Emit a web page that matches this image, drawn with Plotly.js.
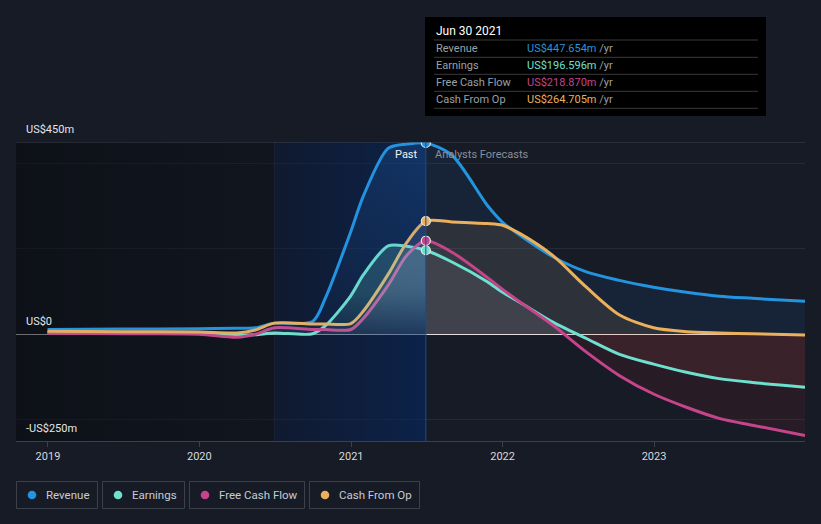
<!DOCTYPE html>
<html>
<head>
<meta charset="utf-8">
<script src="https://cdn.plot.ly/plotly-3.0.1.min.js"></script>
<style>
html,body{margin:0;padding:0;background:#161b26;}
#chart{width:821px;height:524px;}
</style>
</head>
<body>
<div id="chart"></div>
<script>
// ---------- data ----------
const seriesNames  = ["Revenue", "Earnings", "Free Cash Flow", "Cash From Op"];
const seriesColors = ["#2394df", "#6ee0cf", "#c5448a", "#ebb05c"];

const pastDates = ["2018-12-31","2019-06-30","2019-12-31","2020-03-31","2020-05-15","2020-06-30",
                   "2020-09-30","2020-10-31","2020-12-31","2021-01-31","2021-03-31","2021-05-15","2021-06-30"];
const revenuePast  = [11, 12, 13, 14, 15, 26, 30, 85, 240, 325, 435, 445, 447.654];
const earningsPast = [4, 3, 2, -2, -1, 3, 1, 20, 90, 140, 207, 206, 196.596];
const fcfPast      = [2, 1, 0, -7, 0, 15, 11, 11, 11, 38, 115, 185, 218.870];
const cfoPast      = [7, 6, 5, 3, 10, 26, 24, 24, 25, 55, 140, 215, 264.705];

const forecastDates = ["2021-09-01","2021-11-25","2022-01-01","2022-02-11","2022-05-01","2022-07-22",
                       "2022-10-10","2022-12-31","2023-03-20","2023-06-07","2023-08-26","2023-12-31"];
const revenueForecast  = [419, 302, 262, 232, 182, 146, 126, 110, 98, 89, 84, 77];
const earningsForecast = [169, 123, 98, 75, 29, -10, -47, -70, -89, -104, -113, -124];
const fcfForecast      = [192, 133, 105, 76, 22, -42, -97, -140, -171, -197, -213, -237];
const cfoForecast      = [263, 259, 255, 236, 185, 110, 45, 15, 6, 3, 1, -2];

const xTickVals = ["2019-01-01","2020-01-01","2021-01-01","2022-01-01","2023-01-01"];
const xTickText = ["2019","2020","2021","2022","2023"];
const yTickVals = [-250, -200, 0, 200, 400, 450];
const yTickText = ["-US$250m", "", "US$0", "", "", "US$450m"];
const tooltipDate = "Jun 30 2021";
const regionLabels = ["Past", "Analysts Forecasts"];
const pastShadeStart = "2020-06-30";

// ---------- layout helpers ----------
const W = 821, H = 524, ML = 16, MR = 16, MT = 142, MB = 83;
const PW = W - ML - MR, PH = H - MT - MB;
const px = v => (v - ML) / PW;          // pixel x -> paper
const py = v => (H - MB - v) / PH;      // pixel y -> paper
const xRange = ["2018-10-16", "2023-12-31"];
const yRange = [yTickVals[0], yTickVals[yTickVals.length - 1]];
const FONT = "Roboto, 'Noto Sans', sans-serif";

const pastSeries = [revenuePast, earningsPast, fcfPast, cfoPast];
const forecastSeries = [revenueForecast, earningsForecast, fcfForecast, cfoForecast];
const lastPastDate = pastDates[pastDates.length - 1];
const allDates = pastDates.concat(forecastDates);

const pastGrad = [
  [[0, "rgba(40,120,220,0.04)"], [1, "rgba(45,135,235,0.18)"]],
  [[0, "rgba(110,224,207,0.05)"], [0.5, "rgba(110,224,207,0.19)"], [1, "rgba(110,224,207,0.19)"]],
  [[0, "rgba(200,205,235,0.03)"], [0.55, "rgba(200,205,235,0.11)"], [1, "rgba(200,205,235,0.11)"]],
  [[0, "rgba(200,205,235,0.03)"], [0.6, "rgba(205,205,230,0.11)"], [1, "rgba(205,205,230,0.11)"]]
];
const forePos  = ["rgba(35,120,230,0.09)", "rgba(200,190,220,0.06)", "rgba(200,190,220,0.06)", "rgba(236,176,92,0.10)"];
const foreNeg  = ["rgba(35,120,230,0.0)",  "rgba(220,90,90,0.10)",   "rgba(200,30,30,0.10)",   "rgba(200,30,30,0.0)"];
const zFrac = -yRange[0] / (yRange[1] - yRange[0]);

const traces = [];
// background regions
traces.push({
  x: [xRange[0], pastShadeStart, pastShadeStart, xRange[0], xRange[0]],
  y: [yRange[0], yRange[0], yRange[1], yRange[1], yRange[0]],
  mode: "lines", line: {width: 0}, fill: "toself",
  fillgradient: {type: "horizontal", colorscale: [[0, "rgba(6,8,12,0.55)"], [1, "rgba(6,8,12,0.3)"]]},
  hoverinfo: "skip", showlegend: false
});
traces.push({
  x: [pastShadeStart, lastPastDate, lastPastDate, pastShadeStart, pastShadeStart],
  y: [yRange[0], yRange[0], yRange[1], yRange[1], yRange[0]],
  mode: "lines", line: {width: 0}, fill: "toself",
  fillgradient: {type: "horizontal", colorscale: [[0, "rgba(8,25,60,0.45)"], [1, "rgba(5,40,100,0.58)"]]},
  hoverinfo: "skip", showlegend: false
});
// forecast fills
for (let i = 0; i < 4; i++) {
  traces.push({
    x: [lastPastDate].concat(forecastDates),
    y: [pastSeries[i][pastSeries[i].length - 1]].concat(forecastSeries[i]),
    mode: "lines", line: {width: 0, shape: "spline", smoothing: 0.8}, fill: "tozeroy",
    fillgradient: {type: "vertical", start: yRange[0], stop: yRange[1],
      colorscale: [[0, foreNeg[i]], [zFrac, foreNeg[i]], [zFrac + 0.001, forePos[i]], [1, forePos[i]]]},
    hoverinfo: "skip", showlegend: false
  });
}
// lines
for (let i = 0; i < 4; i++) {
  traces.push({
    x: allDates, y: pastSeries[i].concat(forecastSeries[i]), name: seriesNames[i],
    mode: "lines", line: {color: seriesColors[i], width: 3, shape: "spline", smoothing: 0.8},
    hoverinfo: "skip", showlegend: false
  });
}
// past fills (drawn over the lines, which mutes them like the reference)
for (let i = 0; i < 4; i++) {
  traces.push({
    x: pastDates, y: pastSeries[i], mode: "lines",
    line: {width: 0, shape: "spline", smoothing: 0.8}, fill: "tozeroy",
    fillgradient: {type: "vertical", start: 0, stop: pastSeries[i][pastSeries[i].length - 1],
      colorscale: pastGrad[i]},
    hoverinfo: "skip", showlegend: false
  });
}
// markers at last reported
for (let i = 0; i < 4; i++) {
  traces.push({
    x: [lastPastDate], y: [pastSeries[i][pastSeries[i].length - 1]], mode: "markers",
    marker: {size: 9, color: seriesColors[i], line: {color: "#e8e8e8", width: 1.2}},
    hoverinfo: "skip", showlegend: false
  });
}

// ---------- decorations ----------
const shapes = [
  {type: "line", xref: "paper", yref: "y", x0: 0, x1: 1, y0: yRange[1], y1: yRange[1],
   line: {color: "#3d424d", width: 1}},
  {type: "line", xref: "x", yref: "y", x0: lastPastDate, x1: lastPastDate, y0: yRange[0], y1: yRange[1],
   line: {color: "#1d4c8a", width: 1}},
  {type: "line", xref: "x", yref: "y", x0: pastShadeStart, x1: pastShadeStart, y0: yRange[0], y1: yRange[1],
   line: {color: "rgba(255,255,255,0.04)", width: 1}},
  // tooltip box
  {type: "rect", xref: "paper", yref: "paper", x0: px(425), x1: px(766), y0: py(116), y1: py(17),
   fillcolor: "#000000", line: {width: 0}}
];
const annotations = [];
// y tick labels (placed above their reference lines, inside the plot)
yTickVals.forEach((v, k) => {
  if (!yTickText[k]) return;
  annotations.push({xref: "paper", yref: "y", x: px(24), y: v, xanchor: "left", yanchor: "bottom",
    yshift: 4, text: yTickText[k], showarrow: false, font: {family: FONT, size: 11, color: "#e6e6e6"}});
});
// region labels
annotations.push({xref: "x", yref: "y", x: lastPastDate, y: yRange[1], xanchor: "right", yanchor: "top",
  xshift: -6, yshift: -4, text: regionLabels[0], showarrow: false, font: {family: FONT, size: 11, color: "#f2f2f2"}});
annotations.push({xref: "x", yref: "y", x: lastPastDate, y: yRange[1], xanchor: "left", yanchor: "top",
  xshift: 7, yshift: -4, text: regionLabels[1], showarrow: false, font: {family: FONT, size: 11, color: "#8a8f98"}});
// tooltip content
annotations.push({xref: "paper", yref: "paper", x: px(434), y: py(31), xanchor: "left", yanchor: "middle",
  text: tooltipDate, showarrow: false, font: {family: FONT, size: 12, color: "#ffffff"}});
const sepYs = [40, 57.3, 74.3, 91.3, 108.3];
sepYs.forEach(s => shapes.push({type: "line", xref: "paper", yref: "paper", x0: px(434), x1: px(758),
  y0: py(s), y1: py(s), line: {color: "#3a3a3a", width: 1}}));
for (let i = 0; i < 4; i++) {
  const yc = py(48.7 + i * 17);
  const v = pastSeries[i][pastSeries[i].length - 1];
  annotations.push({xref: "paper", yref: "paper", x: px(434), y: yc, xanchor: "left", yanchor: "middle",
    text: seriesNames[i], showarrow: false, font: {family: FONT, size: 11, color: "#9aa0a6"}});
  annotations.push({xref: "paper", yref: "paper", x: px(525), y: yc, xanchor: "left", yanchor: "middle",
    text: '<span style="color:' + seriesColors[i] + '">US$' + v.toFixed(3) + 'm</span> /yr',
    showarrow: false, font: {family: FONT, size: 11, color: "#9aa0a6"}});
}
// legend boxes
const legendBoxes = [[16.5, 97.5], [102.5, 184.5], [189.5, 304.5], [309.5, 419.5]];
for (let i = 0; i < 4; i++) {
  const [l, r] = legendBoxes[i];
  shapes.push({type: "rect", xref: "paper", yref: "paper", x0: px(l), x1: px(r), y0: py(508.5), y1: py(481.5),
    line: {color: "#3b404b", width: 1}, fillcolor: "rgba(0,0,0,0)"});
  const cx = l + 15.5, cy = 495, rr = 4.3;
  shapes.push({type: "circle", xref: "paper", yref: "paper", x0: px(cx - rr), x1: px(cx + rr),
    y0: py(cy + rr), y1: py(cy - rr), fillcolor: seriesColors[i], line: {width: 0}});
  annotations.push({xref: "paper", yref: "paper", x: px(l + 27.8), y: py(495), xanchor: "left", yanchor: "middle",
    text: seriesNames[i], showarrow: false, font: {family: FONT, size: 11.5, color: "#c8ccd3"}});
}

const layout = {
  width: W, height: H,
  margin: {l: ML, r: MR, t: MT, b: MB, pad: 0},
  paper_bgcolor: "#161b26", plot_bgcolor: "#161b26",
  showlegend: false, hovermode: false,
  font: {family: FONT, color: "#d7d9dc"},
  xaxis: {type: "date", range: xRange, tickvals: xTickVals, ticktext: xTickText,
    showgrid: false, zeroline: false, showline: true, linecolor: "#3b404b", linewidth: 1,
    ticks: "outside", ticklen: 5, tickcolor: "#3b404b", tickfont: {family: FONT, size: 11, color: "#d7d9dc"}},
  yaxis: {range: yRange, tickvals: yTickVals, showticklabels: false, ticks: "",
    showgrid: true, gridcolor: "#242a36", gridwidth: 1,
    zeroline: true, zerolinecolor: "#e4e4e4", zerolinewidth: 1, layer: "above traces"},
  shapes: shapes, annotations: annotations
};

Plotly.newPlot("chart", traces, layout, {staticPlot: true, displayModeBar: false});
</script>
</body>
</html>
